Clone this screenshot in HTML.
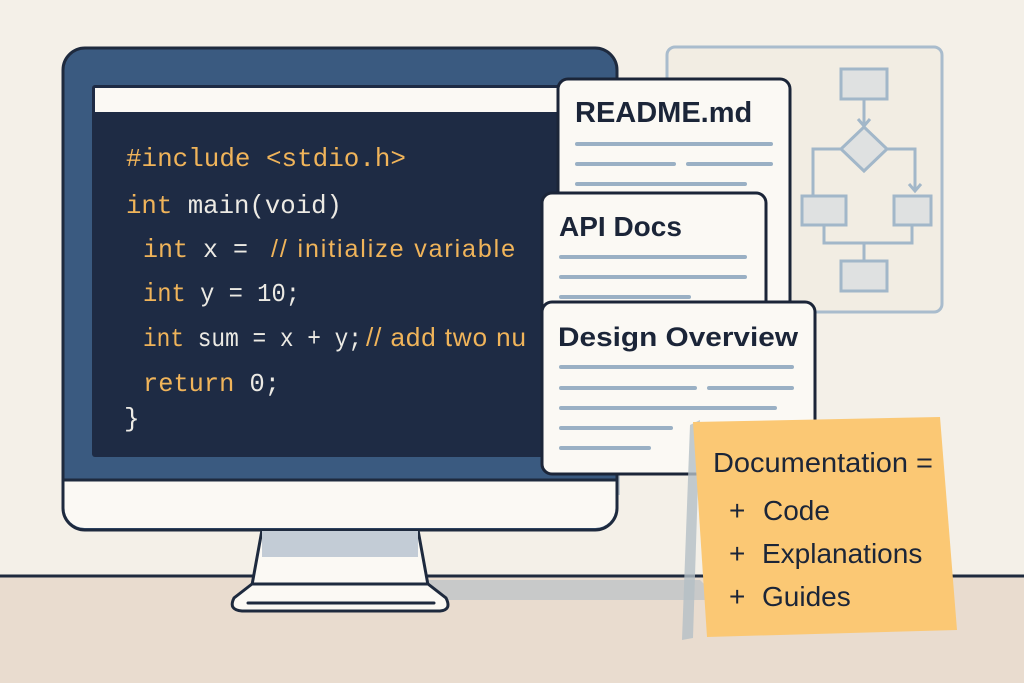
<!DOCTYPE html>
<html><head><meta charset="utf-8"><style>
html,body{margin:0;padding:0;background:#f4f0e8}
svg{display:block}
.code{font-family:"Liberation Mono",monospace;font-size:26px}
.cm{font-family:"Liberation Sans",sans-serif;font-size:25px;fill:#f0b45a}
.o{fill:#f0b45a}.w{fill:#eceae4}
.t{font-family:"Liberation Sans",sans-serif;font-weight:bold;fill:#1b2538}
.s{font-family:"Liberation Sans",sans-serif;fill:#1b2538;font-size:28px}
</style></head><body>
<svg width="1024" height="683" viewBox="0 0 1024 683" xmlns="http://www.w3.org/2000/svg">
<rect width="1024" height="683" fill="#f4f0e8"/>
<rect y="576" width="1024" height="107" fill="#e9dccf"/>
<line x1="0" y1="576" x2="1024" y2="576" stroke="#1e2a3e" stroke-width="3"/>
<!-- shadows -->
<rect x="530" y="470" width="90" height="25" fill="#c3ccd3"/>
<polygon points="420,580 700,580 720,600 430,600" fill="#b9c1c6" opacity="0.7"/>
<!-- monitor -->
<rect x="63" y="48" width="554" height="482" rx="22" fill="#3a5a80" stroke="#1e2a3e" stroke-width="3"/>
<path d="M64.5,480 H615.5 V508 a20,20 0 0 1 -20,20 H84.5 a20,20 0 0 1 -20,-20 Z" fill="#fbf9f4"/>
<line x1="64" y1="480" x2="616" y2="480" stroke="#1e2a3e" stroke-width="3"/>
<rect x="92" y="85" width="470" height="372" rx="3" fill="#1e2b44"/>
<rect x="95" y="88" width="463" height="24" fill="#fbf9f4"/>
<!-- stand -->
<polygon points="262,530 418,530 428,585 252,585" fill="#fbf9f4" stroke="#1e2a3e" stroke-width="3"/>
<rect x="262" y="531" width="156" height="26" fill="#c3ccd6"/>
<path d="M252,584 L234,598 Q228,610 242,611 H440 Q452,610 446,598 L428,584 Z" fill="#fbf9f4" stroke="#1e2a3e" stroke-width="3"/>
<line x1="248" y1="603" x2="434" y2="603" stroke="#1e2a3e" stroke-width="3" stroke-linecap="round"/>
<!-- code -->
<text class="code o" x="126" y="166" textLength="280" lengthAdjust="spacingAndGlyphs">#include &lt;stdio.h&gt;</text>
<text class="code" x="126" y="213" textLength="216" lengthAdjust="spacingAndGlyphs"><tspan class="o">int</tspan><tspan class="w"> main(void)</tspan></text>
<text class="code" x="143" y="257" textLength="105" lengthAdjust="spacingAndGlyphs"><tspan class="o">int</tspan><tspan class="w"> x =</tspan></text>
<text class="cm" x="271" y="257" textLength="244">// initialize variable</text>
<text class="code" x="143" y="301" textLength="157" lengthAdjust="spacingAndGlyphs"><tspan class="o">int</tspan><tspan class="w"> y = 10;</tspan></text>
<text class="code" x="143" y="346" textLength="219" lengthAdjust="spacingAndGlyphs"><tspan class="o">int</tspan><tspan class="w"> sum = x + y;</tspan></text>
<text class="cm" x="366" y="346" textLength="160" style="font-size:26px">// add two nu</text>
<text class="code" x="143" y="391" textLength="137" lengthAdjust="spacingAndGlyphs"><tspan class="o">return</tspan><tspan class="w"> 0;</tspan></text>
<text class="code w" x="124" y="426">}</text>
<!-- flowchart panel -->
<rect x="667" y="47" width="275" height="265" rx="8" fill="#f2ede3" stroke="#a9bccd" stroke-width="3"/>
<g fill="#dfe1e1" stroke="#a2b7c9" stroke-width="3">
<rect x="841" y="69" width="46" height="30"/>
<polygon points="864,127 887,149 864,171 841,149"/>
<rect x="802" y="196" width="44" height="29"/>
<rect x="894" y="196" width="37" height="29"/>
<rect x="841" y="261" width="46" height="30"/>
</g>
<g fill="none" stroke="#a2b7c9" stroke-width="3">
<path d="M864,99 V125"/><path d="M858,119 L864,126 L870,119"/>
<path d="M841,149 H813 V196"/>
<path d="M887,149 H915 V190"/><path d="M909,184 L915,191 L921,184"/>
<path d="M824,225 V243 H912 V225"/>
<path d="M864,243 V261"/>
</g>
<!-- README -->
<rect x="558" y="79" width="232" height="240" rx="10" fill="#fbf9f4" stroke="#1b2538" stroke-width="3"/>
<text class="t" x="575" y="122" font-size="29">README.md</text>
<g stroke="#9ab0c4" stroke-width="4" stroke-linecap="round">
<line x1="577" y1="144" x2="771" y2="144"/><line x1="577" y1="164" x2="674" y2="164"/><line x1="688" y1="164" x2="771" y2="164"/><line x1="577" y1="184" x2="745" y2="184"/>
</g>
<!-- API -->
<rect x="542" y="193" width="224" height="130" rx="10" fill="#fbf9f4" stroke="#1b2538" stroke-width="3"/>
<text class="t" x="559" y="236" font-size="28">API Docs</text>
<g stroke="#9ab0c4" stroke-width="4" stroke-linecap="round">
<line x1="561" y1="257" x2="745" y2="257"/><line x1="561" y1="277" x2="745" y2="277"/><line x1="561" y1="297" x2="689" y2="297"/>
</g>
<!-- Design -->
<rect x="542" y="302" width="273" height="172" rx="10" fill="#fbf9f4" stroke="#1b2538" stroke-width="3"/>
<text class="t" x="558" y="346" font-size="27" textLength="240" lengthAdjust="spacingAndGlyphs">Design Overview</text>
<g stroke="#9ab0c4" stroke-width="4" stroke-linecap="round">
<line x1="561" y1="367" x2="792" y2="367"/><line x1="561" y1="388" x2="695" y2="388"/><line x1="709" y1="388" x2="792" y2="388"/><line x1="561" y1="408" x2="775" y2="408"/><line x1="561" y1="428" x2="671" y2="428"/><line x1="561" y1="448" x2="649" y2="448"/>
</g>
<!-- sticky -->
<polygon points="690,425 700,420 693,638 682,640" fill="#b4bfc6" opacity="0.8"/>
<polygon points="693,422 940,417 957,630 707,637" fill="#fbc874"/>
<text class="s" x="713" y="472" textLength="220" lengthAdjust="spacingAndGlyphs">Documentation =</text>
<text class="s" x="729" y="520">+</text><text class="s" x="763" y="520">Code</text>
<text class="s" x="729" y="563">+</text><text class="s" x="762" y="563">Explanations</text>
<text class="s" x="729" y="606">+</text><text class="s" x="762" y="606">Guides</text>
</svg>
</body></html>
